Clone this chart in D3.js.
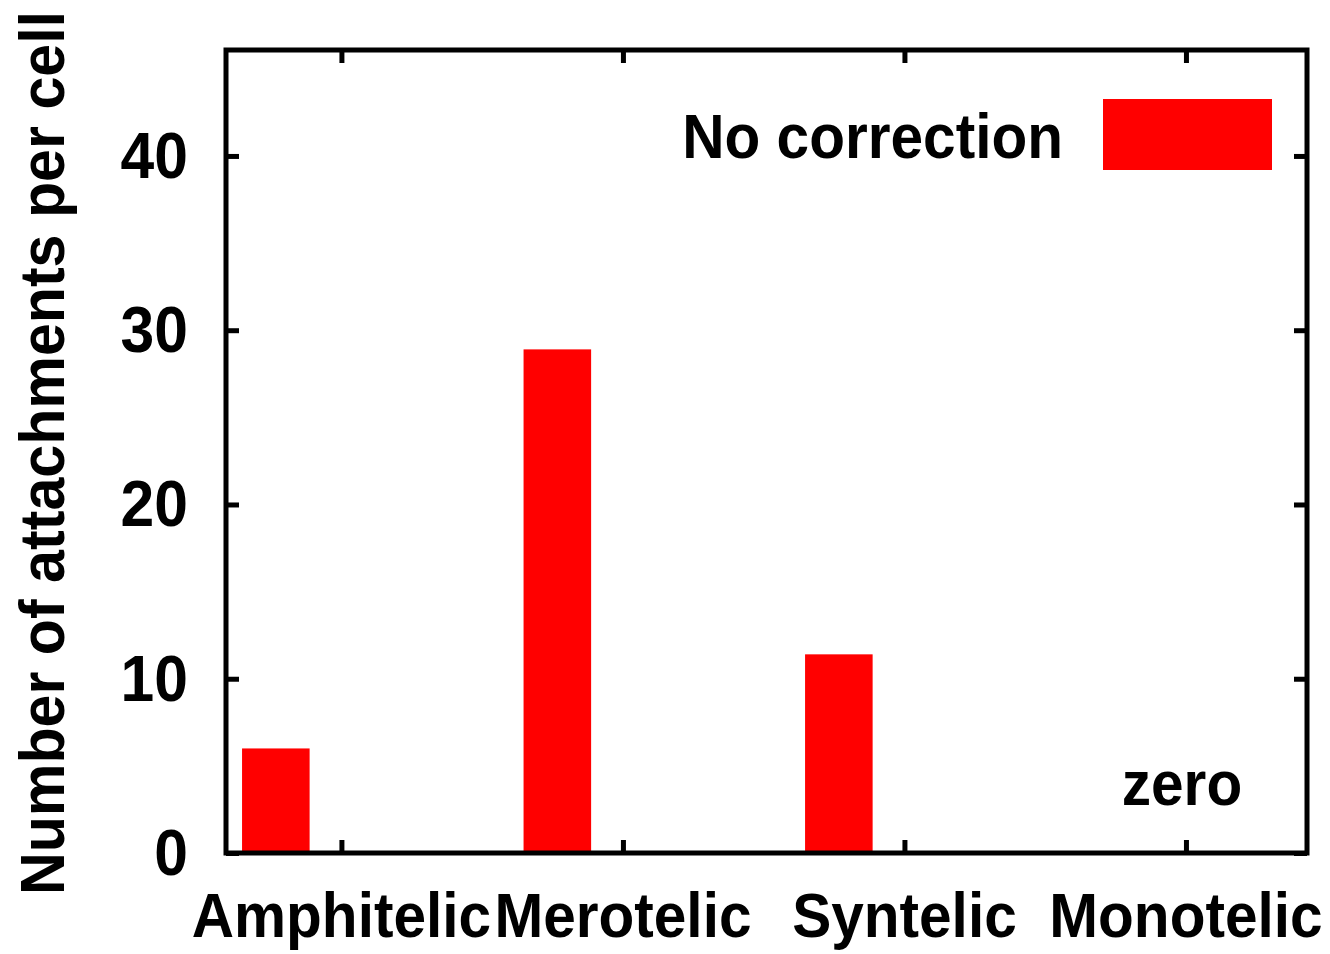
<!DOCTYPE html>
<html>
<head>
<meta charset="utf-8">
<script src="https://cdn.jsdelivr.net/npm/d3@7"></script>
<style>
  html, body { margin: 0; padding: 0; background: #fff; }
  text { font-family: "Liberation Sans", Arial, sans-serif; font-weight: bold; fill: #000; }
</style>
</head>
<body>
<svg id="chart"></svg>
<script>
// data
const categories = ["Amphitelic", "Merotelic", "Syntelic", "Monotelic"];
const noCorrection = [6.0, 28.9, 11.4, 0];
const yTicks = [0, 10, 20, 30, 40];
const seriesName = "No correction";
const zeroNote = "zero";

const width = 1330;
const height = 954;
const margin = { top: 50, right: 23, bottom: 101, left: 226 };

const svg = d3.select("#chart").attr("width", width).attr("height", height);

const x = d3.scaleLinear()
    .domain([-0.41, 3.43])
    .range([margin.left, width - margin.right]);

const y = d3.scaleLinear()
    .domain([0, 46.08])
    .range([height - margin.bottom, margin.top]);

const barOffset = -0.233;
const barWidth = 0.24;

// text helper, the source font is a bit taller than Liberation Sans
function label(g, str, px, py, anchor, size) {
    return g.append("text")
        .attr("transform", "translate(" + px + "," + py + ") scale(1.01,1.08)")
        .attr("text-anchor", anchor)
        .attr("font-size", size)
        .text(str);
}

// bars
svg.append("g").attr("class", "bars")
    .selectAll("rect")
    .data(noCorrection)
    .enter()
    .append("rect")
    .attr("x", function (d, i) { return x(i + barOffset - barWidth / 2); })
    .attr("width", function () { return x(barWidth) - x(0); })
    .attr("y", function (d) { return y(d); })
    .attr("height", function (d) { return y(0) - y(d); })
    .attr("fill", "#ff0000");

// axes, ticks pointing inward on all four sides
const tickLen = 13;
function styleAxis(g) {
    g.select(".domain").remove();
    g.selectAll(".tick line").attr("stroke", "#000").attr("stroke-width", 5);
    g.selectAll(".tick text").remove();
}

svg.append("g")
    .attr("transform", "translate(0," + y(0) + ")")
    .call(d3.axisBottom(x).tickValues([0, 1, 2, 3]).tickSize(-tickLen))
    .call(styleAxis);
svg.append("g")
    .attr("transform", "translate(0," + y.range()[1] + ")")
    .call(d3.axisTop(x).tickValues([0, 1, 2, 3]).tickSize(-tickLen))
    .call(styleAxis);
svg.append("g")
    .attr("transform", "translate(" + x.range()[0] + ",0)")
    .call(d3.axisLeft(y).tickValues(yTicks).tickSize(-tickLen))
    .call(styleAxis);
svg.append("g")
    .attr("transform", "translate(" + x.range()[1] + ",0)")
    .call(d3.axisRight(y).tickValues(yTicks).tickSize(-tickLen))
    .call(styleAxis);

// frame
svg.append("rect")
    .attr("x", x.range()[0])
    .attr("y", y.range()[1])
    .attr("width", x.range()[1] - x.range()[0])
    .attr("height", y.range()[0] - y.range()[1])
    .attr("fill", "none")
    .attr("stroke", "#000")
    .attr("stroke-width", 5);

// tick labels
const labels = svg.append("g").attr("class", "labels");
yTicks.forEach(function (t) {
    label(labels, String(t), x.range()[0] - 38, y(t) + 22, "end", 60);
});
categories.forEach(function (c, i) {
    label(labels, c, x(i), 937, "middle", 58);
});

// y axis title
labels.append("text")
    .attr("transform", "translate(64," + 453 + ") rotate(-90) scale(1.02,1.07)")
    .attr("text-anchor", "middle")
    .attr("font-size", 58)
    .text("Number of attachments per cell");

// note for the empty category
label(labels, zeroNote, x(3) - 4, 805, "middle", 58);

// legend
const legend = svg.append("g").attr("class", "legend");
label(legend, seriesName, 1063, 158, "end", 58);
legend.append("rect")
    .attr("x", 1103)
    .attr("y", 99)
    .attr("width", 169)
    .attr("height", 71)
    .attr("fill", "#ff0000");
</script>
</body>
</html>
